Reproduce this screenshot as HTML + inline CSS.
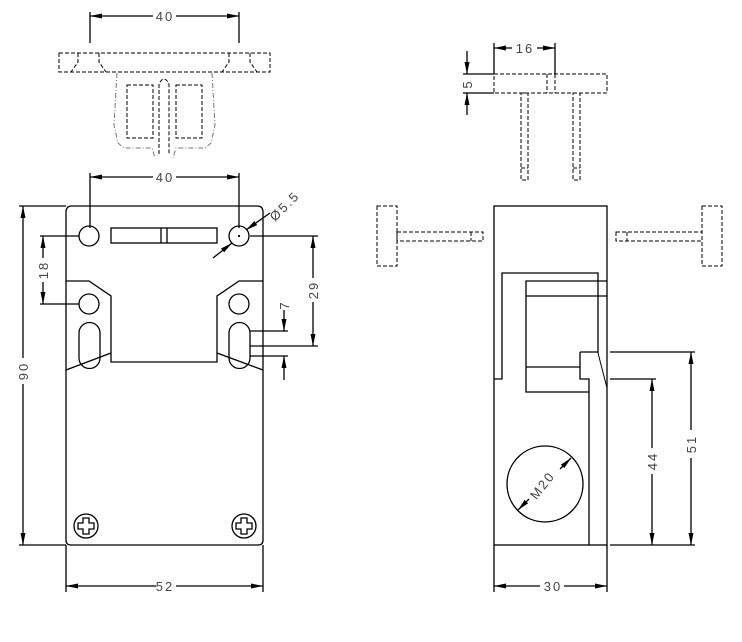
<!DOCTYPE html>
<html><head><style>
html,body{margin:0;padding:0;background:#fff;}
svg{display:block;}
text{font-family:"Liberation Sans",sans-serif;font-size:13px;fill:#444;letter-spacing:2px;}
</style></head><body>
<svg width="742" height="642" viewBox="0 0 742 642" xmlns="http://www.w3.org/2000/svg">
<defs>
<marker id="a" viewBox="0 0 12 6" refX="12" refY="3" markerWidth="12" markerHeight="6" orient="auto-start-reverse" markerUnits="userSpaceOnUse"><path d="M0,0.5 L12,3 L0,5.5 z" fill="#000"/></marker>
</defs>
<g fill="none" stroke="#000" stroke-width="1.3">
<!-- top front dashed part -->
<line x1="90" y1="12" x2="90" y2="43"/><line x1="239" y1="12" x2="239" y2="43"/>
<line x1="90" y1="16" x2="153" y2="16" marker-start="url(#a)"/><line x1="176" y1="16" x2="239" y2="16" marker-end="url(#a)"/>
<g stroke-dasharray="4,2" stroke-width="1">
<rect x="59" y="53" width="211" height="19"/>
<path d="M78,53 V62 L71,72 M99,53 V62 L106,72 M229,53 V62 L222,72 M250,53 V62 L257,72"/>
<rect x="127" y="85" width="26" height="53"/>
<rect x="176" y="85" width="26" height="53"/>
<path d="M159,154 V84 Q164,74 169,84 V154"/>
</g>
<g stroke="#777" stroke-dasharray="5,2,1,2" stroke-width="1">
<path d="M117,73 L114,125 L118,143 L124,148 H152 L155,158 M117,73"/>
<path d="M212,73 L215,125 L211,143 L205,148 H176 L173,158"/>
</g>
<!-- front view main -->
<line x1="90" y1="173" x2="90" y2="228"/><line x1="239" y1="173" x2="239" y2="228"/>
<line x1="90" y1="177" x2="153" y2="177" marker-start="url(#a)"/><line x1="176" y1="177" x2="239" y2="177" marker-end="url(#a)"/>
<path d="M72,206 H257 Q263,206 263,212 V540 Q263,545 258,545 H71 Q66,545 66,540 V212 Q66,206 72,206 Z"/>
<circle cx="89" cy="236" r="10"/><circle cx="239" cy="236" r="10"/>
<circle cx="239" cy="236" r="0.5"/>
<rect x="111" y="228" width="106" height="15"/>
<line x1="161" y1="228" x2="161" y2="243"/><line x1="167" y1="228" x2="167" y2="243"/>
<path d="M66,281 H89 L111,296 V362 H217 V296 L239,281 H263"/>
<path d="M66,370 L111,353 M217,353 L263,370"/>
<circle cx="89" cy="304" r="10"/><circle cx="239" cy="304" r="10"/>
<path d="M79,358 V333 A10.5,10.5 0 0 1 100,333 V358 A10.5,10.5 0 0 1 79,358 Z"/>
<path d="M229,358 V333 A10.5,10.5 0 0 1 250,333 V358 A10.5,10.5 0 0 1 229,358 Z"/>
<circle cx="86" cy="526" r="12"/><circle cx="244" cy="526" r="12"/>
<path d="M83,518 h6 v5 h5 v6 h-5 v5 h-6 v-5 h-5 v-6 h5 z"/>
<path d="M241,518 h6 v5 h5 v6 h-5 v5 h-6 v-5 h-5 v-6 h5 z"/>
<!-- 90 -->
<line x1="19" y1="206" x2="66" y2="206"/><line x1="19" y1="545" x2="66" y2="545"/>
<line x1="23" y1="206" x2="23" y2="358" marker-start="url(#a)"/><line x1="23" y1="384" x2="23" y2="545" marker-end="url(#a)"/>
<!-- 18 -->
<line x1="40" y1="236" x2="79" y2="236"/><line x1="40" y1="304" x2="79" y2="304"/>
<line x1="43" y1="236" x2="43" y2="258" marker-start="url(#a)"/><line x1="43" y1="282" x2="43" y2="304" marker-end="url(#a)"/>
<!-- 29 -->
<line x1="250" y1="236" x2="318" y2="236"/><line x1="250" y1="346" x2="318" y2="346"/>
<line x1="313" y1="236" x2="313" y2="278" marker-start="url(#a)"/><line x1="313" y1="302" x2="313" y2="346" marker-end="url(#a)"/>
<!-- 7 -->
<line x1="250" y1="331" x2="288" y2="331"/><line x1="250" y1="356" x2="288" y2="356"/>
<line x1="284" y1="310" x2="284" y2="331" marker-end="url(#a)"/><line x1="284" y1="380" x2="284" y2="356" marker-end="url(#a)"/>
<!-- dia 5.5 -->
<line x1="213" y1="258" x2="232" y2="243" marker-end="url(#a)"/>
<line x1="270" y1="213" x2="246" y2="230" marker-end="url(#a)"/>
<!-- 52 -->
<line x1="66" y1="545" x2="66" y2="592"/><line x1="263" y1="545" x2="263" y2="592"/>
<line x1="66" y1="586" x2="156" y2="586" marker-start="url(#a)"/><line x1="176" y1="586" x2="263" y2="586" marker-end="url(#a)"/>

<!-- right top dashed -->
<line x1="494" y1="43" x2="494" y2="74"/><line x1="555" y1="43" x2="555" y2="74"/>
<line x1="494" y1="48" x2="512" y2="48" marker-start="url(#a)"/><line x1="537" y1="48" x2="555" y2="48" marker-end="url(#a)"/>
<line x1="463" y1="74" x2="494" y2="74"/><line x1="463" y1="93" x2="494" y2="93"/>
<line x1="467" y1="51" x2="467" y2="74" marker-end="url(#a)"/><line x1="467" y1="115" x2="467" y2="93" marker-end="url(#a)"/>
<g stroke-dasharray="4,2" stroke-width="1">
<rect x="494" y="74" width="113" height="19"/>
<line x1="547" y1="74" x2="547" y2="93"/><line x1="555" y1="74" x2="555" y2="93"/>
<rect x="521" y="93" width="7" height="87"/><line x1="521" y1="168" x2="528" y2="168"/>
<rect x="573" y="93" width="7" height="87"/><line x1="573" y1="168" x2="580" y2="168"/>
<rect x="377" y="206" width="20" height="60"/>
<rect x="397" y="232" width="86" height="9"/><line x1="471" y1="232" x2="471" y2="241"/>
<rect x="702" y="206" width="20" height="60"/>
<rect x="616" y="232" width="86" height="9"/><line x1="627" y1="232" x2="627" y2="241"/>
</g>
<!-- right body -->
<rect x="494" y="206" width="113" height="339"/>
<path d="M494,379 H502 V273 H598 V353"/>
<line x1="598" y1="353" x2="607" y2="388" stroke-width="1"/>
<path d="M607,281 H526 V392 H589 V545 M526,296 H607 M526,367 H580 M580,352 V379 H589 V392"/>
<line x1="580" y1="352" x2="598" y2="352"/>
<circle cx="545" cy="484" r="38"/>
<line x1="518" y1="510" x2="529" y2="499" marker-start="url(#a)"/>
<line x1="560" y1="469" x2="571" y2="458" marker-end="url(#a)"/>
<!-- 51/44 -->
<line x1="610" y1="352" x2="695" y2="352"/><line x1="610" y1="545" x2="695" y2="545"/>
<line x1="610" y1="379" x2="656" y2="379"/>
<line x1="691" y1="352" x2="691" y2="430" marker-start="url(#a)"/><line x1="691" y1="458" x2="691" y2="545" marker-end="url(#a)"/>
<line x1="652" y1="379" x2="652" y2="448" marker-start="url(#a)"/><line x1="652" y1="474" x2="652" y2="545" marker-end="url(#a)"/>
<!-- 30 -->
<line x1="494" y1="545" x2="494" y2="592"/><line x1="607" y1="545" x2="607" y2="592"/>
<line x1="494" y1="586" x2="540" y2="586" marker-start="url(#a)"/><line x1="564" y1="586" x2="607" y2="586" marker-end="url(#a)"/>
</g>
<g>
<text x="165" y="21" text-anchor="middle">40</text>
<text x="165" y="182" text-anchor="middle">40</text>
<text x="165" y="591" text-anchor="middle">52</text>
<text x="553" y="591" text-anchor="middle">30</text>
<text x="525" y="53" text-anchor="middle">16</text>
<text transform="translate(28,371) rotate(-90)" text-anchor="middle">90</text>
<text transform="translate(48,270) rotate(-90)" text-anchor="middle">18</text>
<text transform="translate(318,290) rotate(-90)" text-anchor="middle">29</text>
<text transform="translate(289,305) rotate(-90)" text-anchor="middle">7</text>
<text transform="translate(472,84) rotate(-90)" text-anchor="middle">5</text>
<text transform="translate(696,444) rotate(-90)" text-anchor="middle">51</text>
<text transform="translate(657,461) rotate(-90)" text-anchor="middle">44</text>
<text transform="translate(546,488) rotate(-52)" text-anchor="middle">M20</text>
<text transform="translate(275,222) rotate(-45)">Ø5.5</text>
</g>
</svg>
</body></html>
